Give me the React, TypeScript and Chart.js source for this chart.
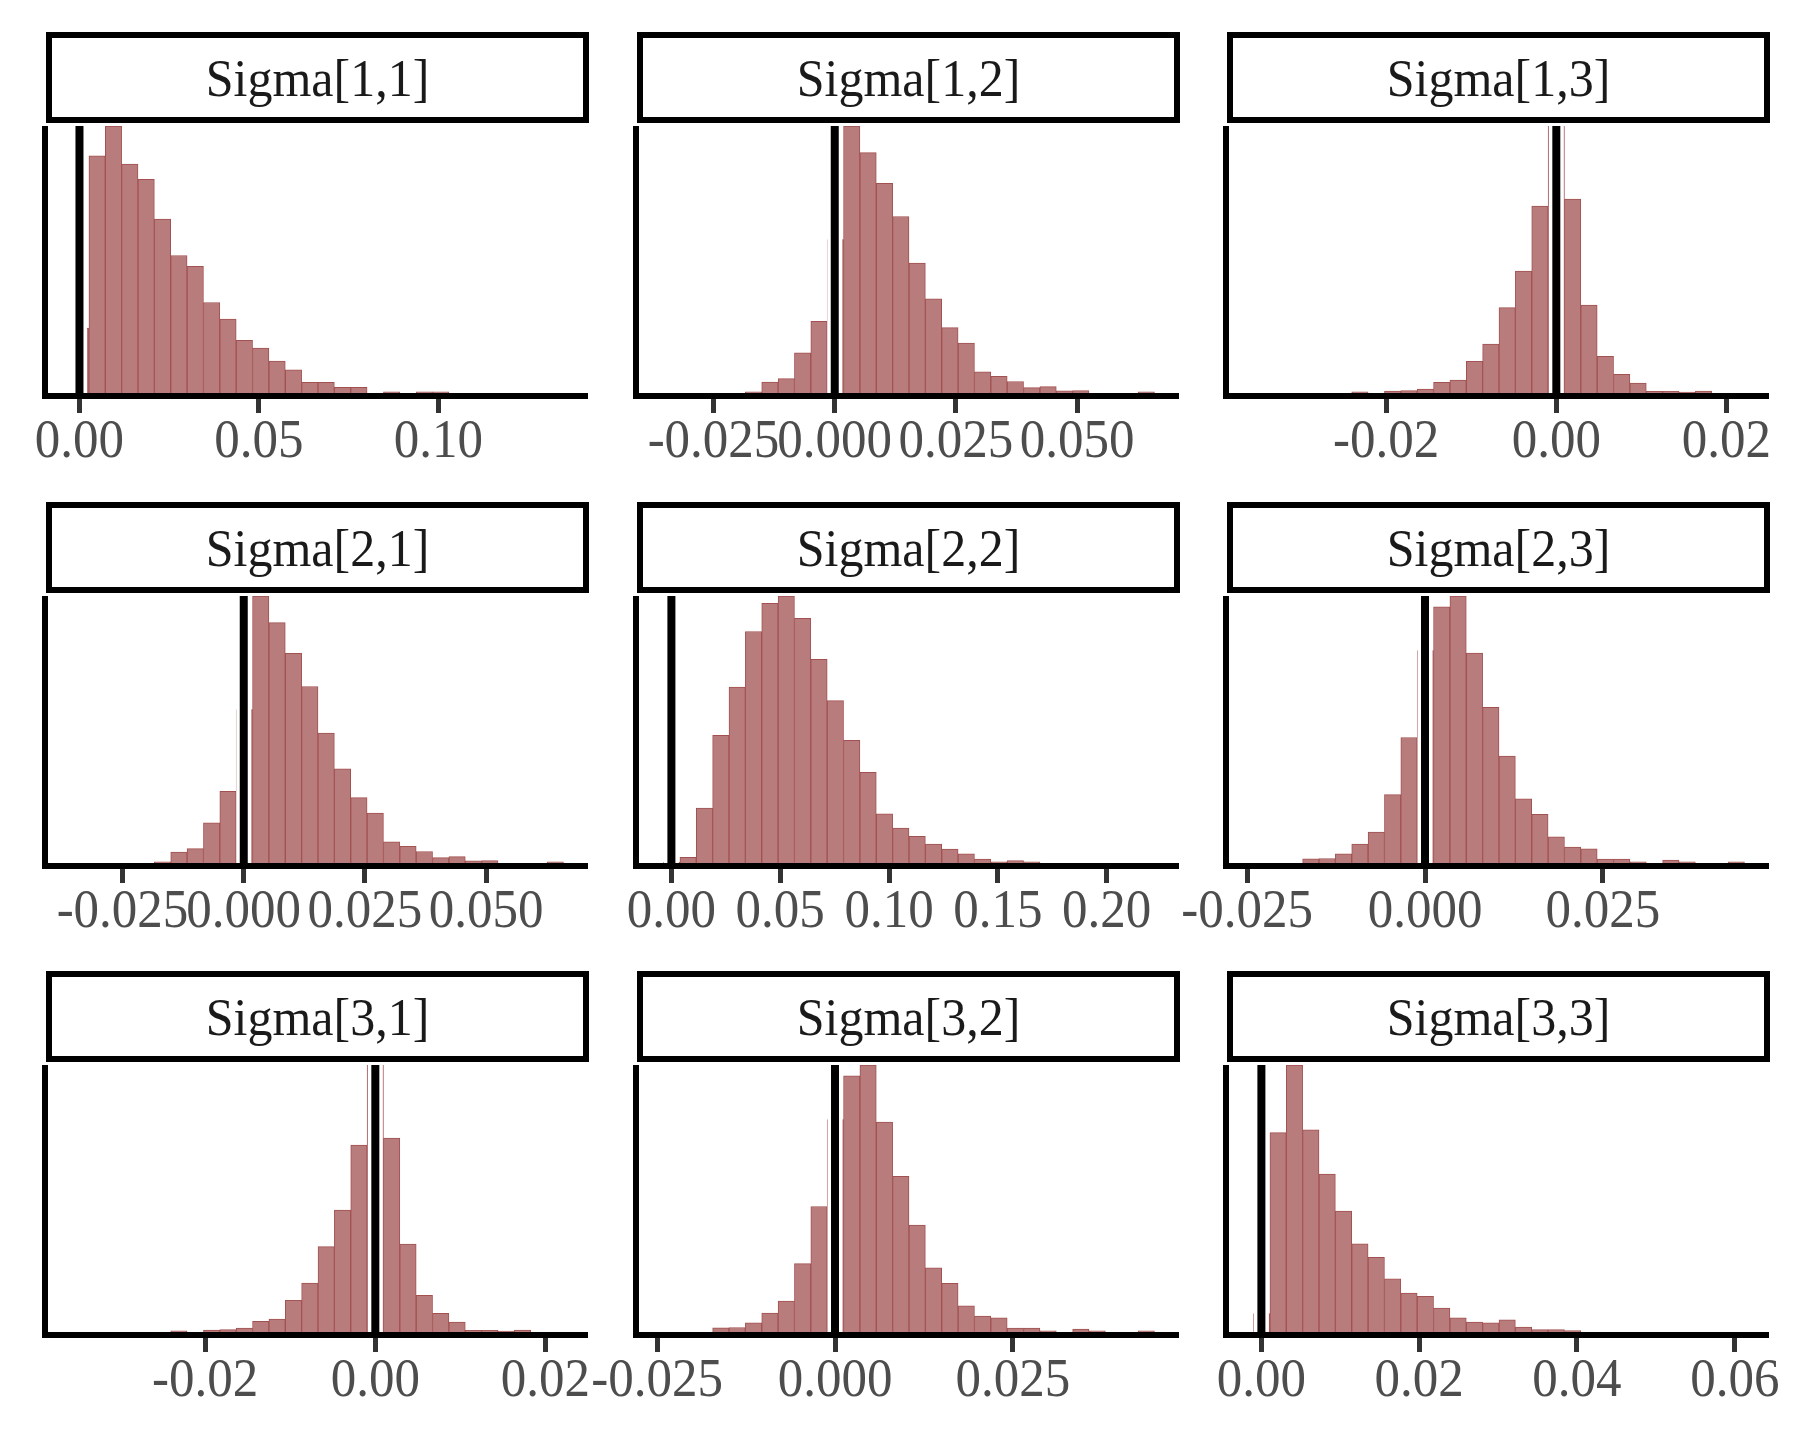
import React, { useEffect, useRef } from "react";
import { Chart, registerables } from "chart.js";

Chart.register(...registerables);

// ---------------- data ----------------
const PANEL_TITLES = [
  "Sigma[1,1]", "Sigma[1,2]", "Sigma[1,3]",
  "Sigma[2,1]", "Sigma[2,2]", "Sigma[2,3]",
  "Sigma[3,1]", "Sigma[3,2]", "Sigma[3,3]",
];

// Sigma[1,1]
const S11_BIN_START = -0.00193;
const S11_BIN_WIDTH = 0.00456;
const S11_COUNTS = [243, 888, 1000, 857, 800, 651, 515, 474, 339, 277, 197, 168, 120, 87, 40, 40, 21, 21, 0, 4, 0, 4, 4, 0, 0, 0, 0, 0, 0, 0];
const S11_TICKS = [0, 0.05, 0.1];
const S11_TICK_LABELS = ["0.00", "0.05", "0.10"];

// Sigma[1,2] (= Sigma[2,1])
const S12_BIN_START = -0.0353;
const S12_BIN_WIDTH = 0.003374;
const S12_COUNTS = [0, 0, 0, 0, 0, 4, 41, 54, 150, 268, 575, 1000, 900, 785, 661, 487, 353, 245, 187, 79, 62, 43, 20, 24, 8, 9, 0, 0, 0, 4];
const S12_TICKS = [-0.025, 0, 0.025, 0.05];
const S12_TICK_LABELS = ["-0.025", "0.000", "0.025", "0.050"];

// Sigma[1,3] (= Sigma[3,1])
const S13_BIN_START = -0.0356;
const S13_BIN_WIDTH = 0.001924;
const S13_COUNTS = [0, 0, 0, 0, 0, 0, 4, 0, 7, 9, 15, 40, 48, 119, 183, 320, 457, 700, 1000, 726, 329, 137, 70, 37, 6, 6, 3, 7, 0, 0];
const S13_TICKS = [-0.02, 0, 0.02];
const S13_TICK_LABELS = ["-0.02", "0.00", "0.02"];

// Sigma[2,2]
const S22_BIN_START = -0.00361;
const S22_BIN_WIDTH = 0.00752;
const S22_COUNTS = [3, 21, 206, 478, 659, 867, 973, 1000, 916, 763, 608, 459, 340, 184, 131, 100, 71, 52, 34, 15, 4, 9, 4, 0, 0, 0, 0, 0, 0, 0];
const S22_TICKS = [0, 0.05, 0.1, 0.15, 0.2];
const S22_TICK_LABELS = ["0.00", "0.05", "0.10", "0.15", "0.20"];

// Sigma[2,3] (= Sigma[3,2])
const S23_BIN_START = -0.0241;
const S23_BIN_WIDTH = 0.0023;
const S23_COUNTS = [0, 0, 0, 16, 17, 34, 71, 116, 256, 470, 796, 959, 1000, 786, 583, 400, 240, 182, 98, 60, 53, 15, 15, 4, 0, 11, 4, 0, 0, 4];
const S23_TICKS = [-0.025, 0, 0.025];
const S23_TICK_LABELS = ["-0.025", "0.000", "0.025"];

// Sigma[3,3]
const S33_BIN_START = -0.000995;
const S33_BIN_WIDTH = 0.002074;
const S33_COUNTS = [69, 747, 1000, 757, 591, 453, 330, 280, 199, 146, 134, 90, 53, 37, 34, 46, 18, 9, 9, 5, 0, 0, 0, 0, 0, 0, 0, 0, 0, 0];
const S33_TICKS = [0, 0.02, 0.04, 0.06];
const S33_TICK_LABELS = ["0.00", "0.02", "0.04", "0.06"];

type Spec = {
  title: string;
  binStart: number;
  binWidth: number;
  counts: number[];
  ticks: number[];
  tickLabels: string[];
};

const PANELS: Spec[] = [
  { title: PANEL_TITLES[0], binStart: S11_BIN_START, binWidth: S11_BIN_WIDTH, counts: S11_COUNTS, ticks: S11_TICKS, tickLabels: S11_TICK_LABELS },
  { title: PANEL_TITLES[1], binStart: S12_BIN_START, binWidth: S12_BIN_WIDTH, counts: S12_COUNTS, ticks: S12_TICKS, tickLabels: S12_TICK_LABELS },
  { title: PANEL_TITLES[2], binStart: S13_BIN_START, binWidth: S13_BIN_WIDTH, counts: S13_COUNTS, ticks: S13_TICKS, tickLabels: S13_TICK_LABELS },
  { title: PANEL_TITLES[3], binStart: S12_BIN_START, binWidth: S12_BIN_WIDTH, counts: S12_COUNTS, ticks: S12_TICKS, tickLabels: S12_TICK_LABELS },
  { title: PANEL_TITLES[4], binStart: S22_BIN_START, binWidth: S22_BIN_WIDTH, counts: S22_COUNTS, ticks: S22_TICKS, tickLabels: S22_TICK_LABELS },
  { title: PANEL_TITLES[5], binStart: S23_BIN_START, binWidth: S23_BIN_WIDTH, counts: S23_COUNTS, ticks: S23_TICKS, tickLabels: S23_TICK_LABELS },
  { title: PANEL_TITLES[6], binStart: S13_BIN_START, binWidth: S13_BIN_WIDTH, counts: S13_COUNTS, ticks: S13_TICKS, tickLabels: S13_TICK_LABELS },
  { title: PANEL_TITLES[7], binStart: S23_BIN_START, binWidth: S23_BIN_WIDTH, counts: S23_COUNTS, ticks: S23_TICKS, tickLabels: S23_TICK_LABELS },
  { title: PANEL_TITLES[8], binStart: S33_BIN_START, binWidth: S33_BIN_WIDTH, counts: S33_COUNTS, ticks: S33_TICKS, tickLabels: S33_TICK_LABELS },
];

// ---------------- layout / style ----------------
const COL_LEFT = [48, 639, 1229];
const ROW_STRIP_TOP = [32, 502, 971];
const PLOT_W = 540;
const STRIP_H = 91;
const STRIP_TO_PLOT = 94;
const PLOT_H = 267;
const PADX = 80;
const AXIS_H = 90;
const LINE_W = 6;
const FONT = "'Liberation Serif', 'Times New Roman', serif";
const TICK_FONT_SIZE = 51;
const STRIP_FONT_SIZE = 50;
const TEXT_STRETCH = 1.06;
const LABEL_OFFSET = 50;
const FILL = "#B97C7C";
const EDGE = "#A25050";

function makeDecoPlugin(spec: Spec) {
  return {
    id: "panelDeco",
    afterDatasetsDraw(chart: any) {
      const { ctx, chartArea, scales } = chart;
      const { left, right, top, bottom } = chartArea;
      const xs = scales.x;
      const x0 = xs.getPixelForValue(0);
      ctx.save();
      // zero reference line: white halo + black line
      ctx.fillStyle = "#FFFFFF";
      ctx.fillRect(x0 - 7.5, top, 15, bottom - top);
      ctx.fillStyle = "#000000";
      ctx.fillRect(x0 - 4, top, 8, bottom - top);
      // axis lines (drawn just outside the panel)
      ctx.fillRect(left - LINE_W, top, LINE_W, bottom - top + LINE_W);
      ctx.fillRect(left - LINE_W, bottom, right - left + LINE_W, LINE_W);
      // tick labels
      ctx.fillStyle = "#4D4D4D";
      ctx.font = `${TICK_FONT_SIZE}px ${FONT}`;
      ctx.textAlign = "center";
      ctx.textBaseline = "middle";
      spec.ticks.forEach((v, i) => {
        const px = xs.getPixelForValue(v);
        ctx.save();
        ctx.translate(px, bottom + LABEL_OFFSET);
        ctx.scale(1, TEXT_STRETCH);
        ctx.fillText(spec.tickLabels[i], 0, 0);
        ctx.restore();
      });
      ctx.restore();
    },
  };
}

function Panel({ spec, left, top }: { spec: Spec; left: number; top: number }) {
  const ref = useRef<HTMLCanvasElement>(null);
  const cw = PLOT_W + 2 * PADX;
  const ch = PLOT_H + AXIS_H;

  useEffect(() => {
    const canvas = ref.current;
    if (!canvas) return;
    const w = spec.binWidth;
    const n = spec.counts.length;
    const points = spec.counts.map((c, i) => ({ x: spec.binStart + (i + 0.5) * w, y: c }));
    const chart = new Chart(canvas, {
      type: "bar",
      data: {
        datasets: [
          {
            data: points as any,
            backgroundColor: FILL,
            borderColor: EDGE,
            borderWidth: 1,
            barPercentage: 1,
            categoryPercentage: 1,
          },
        ],
      },
      options: {
        responsive: false,
        animation: false,
        events: [],
        layout: { padding: { left: PADX, right: PADX, top: 0, bottom: 0 } },
        plugins: {
          legend: { display: false },
          tooltip: { enabled: false },
          title: { display: false },
        },
        scales: {
          x: {
            type: "linear",
            min: spec.binStart - 1.5 * w,
            max: spec.binStart + (n + 1.5) * w,
            offset: false,
            grid: {
              display: true,
              drawOnChartArea: false,
              drawTicks: true,
              tickLength: LINE_W + 14,
              tickWidth: 5,
              tickColor: "#333333",
              offset: false,
            },
            border: { display: false },
            afterBuildTicks: (s: any) => {
              s.ticks = spec.ticks.map((v) => ({ value: v }));
            },
            afterFit: (s: any) => {
              s.height = AXIS_H;
              s.paddingLeft = 0;
              s.paddingRight = 0;
            },
            ticks: {
              display: false,
              autoSkip: false,
              maxRotation: 0,
              minRotation: 0,
            },
          } as any,
          y: {
            display: false,
            min: 0,
            max: Math.max(...spec.counts),
          },
        },
      },
      plugins: [makeDecoPlugin(spec)],
    });
    return () => chart.destroy();
  }, [spec]);

  return (
    <canvas
      ref={ref}
      width={cw}
      height={ch}
      style={{ position: "absolute", left: left - PADX, top, width: cw, height: ch }}
    />
  );
}

export default function App() {
  return (
    <div style={{ position: "absolute", left: 0, top: 0, width: 1800, height: 1440, background: "#FFFFFF", overflow: "hidden" }}>
      {PANELS.map((spec, i) => {
        const col = i % 3;
        const row = Math.floor(i / 3);
        const left = COL_LEFT[col];
        const stripTop = ROW_STRIP_TOP[row];
        const plotTop = stripTop + STRIP_TO_PLOT;
        return (
          <React.Fragment key={i}>
            <div
              style={{
                position: "absolute",
                left: left - 2,
                top: stripTop,
                width: PLOT_W + 3,
                height: STRIP_H,
                boxSizing: "border-box",
                border: `${LINE_W}px solid #000`,
                background: "#FFFFFF",
                display: "flex",
                alignItems: "center",
                justifyContent: "center",
                fontFamily: FONT,
                fontSize: STRIP_FONT_SIZE,
                color: "#1A1A1A",
                lineHeight: 1,
                whiteSpace: "nowrap",
              }}
            >
              <span style={{ display: "inline-block", transform: `scaleY(${TEXT_STRETCH})` }}>{spec.title}</span>
            </div>
            <Panel spec={spec} left={left} top={plotTop} />
          </React.Fragment>
        );
      })}
    </div>
  );
}
